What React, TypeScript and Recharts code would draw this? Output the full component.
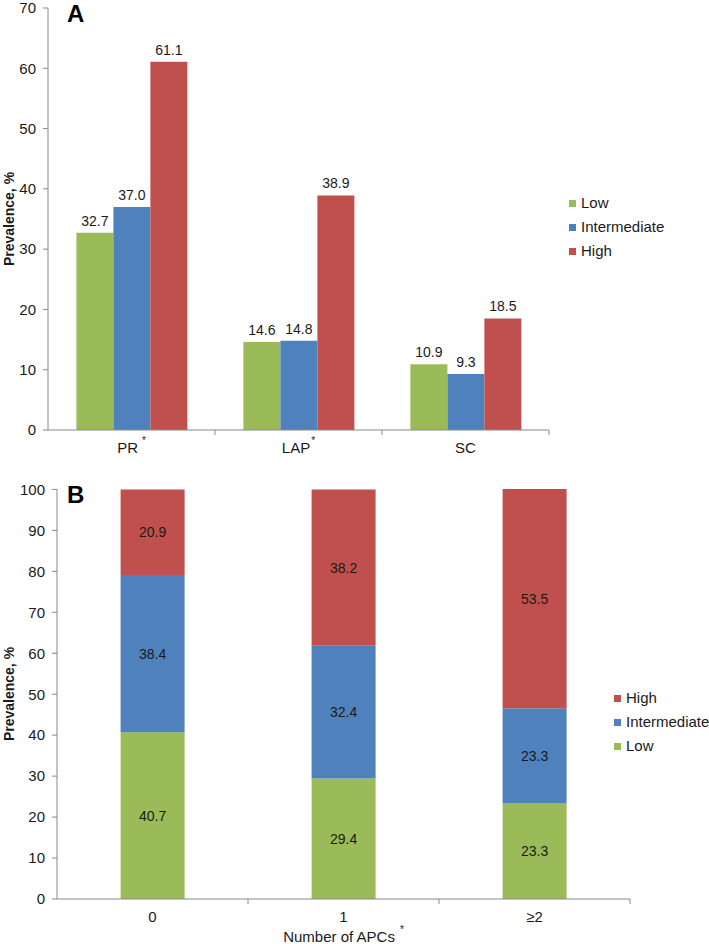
import { BarChart, Bar, XAxis, YAxis, LabelList } from "recharts";

// panel A: prevalence by group
const groupsA = ["PR", "LAP", "SC"];
const starsA = [true, true, false];
const lowA = [32.7, 14.6, 10.9];
const interA = [37.0, 14.8, 9.3];
const highA = [61.1, 38.9, 18.5];
const ticksA = [0, 10, 20, 30, 40, 50, 60, 70];

// panel B: prevalence by number of APCs
const groupsB = ["0", "1", "≥2"];
const lowB = [40.7, 29.4, 23.3];
const interB = [38.4, 32.4, 23.3];
const highB = [20.9, 38.2, 53.5];
const ticksB = [0, 10, 20, 30, 40, 50, 60, 70, 80, 90, 100];

const seriesNames = ["Low", "Intermediate", "High"];

const GREEN = "#9BBB59";
const BLUE = "#4F81BD";
const RED = "#C0504D";
const GREY = "#898989";
const INK = "#1a1a1a";
const FONT = "'Liberation Sans', Arial, sans-serif";

const dataA = groupsA.map((g, i) => ({
  name: g,
  star: starsA[i],
  low: lowA[i],
  inter: interA[i],
  high: highA[i],
}));

const dataB = groupsB.map((g, i) => ({
  name: g,
  star: false,
  low: lowB[i],
  inter: interB[i],
  high: highB[i],
}));

const fmt = (v: any) => Number(v).toFixed(1);

function CatTick(props: any) {
  const { x, y, payload, index, catW, stars } = props;
  const star = stars ? stars[index] : false;
  return (
    <g>
      <line x1={x + catW / 2} x2={x + catW / 2} y1={y} y2={y + 5} stroke={GREY} />
      <text x={x} y={y + 23} textAnchor="middle" fill={INK} fontSize={15} fontFamily={FONT}>
        {payload.value}
        {star ? (
          <tspan dx={payload.value === "PR" ? 4 : 1} dy={-9} fontSize={10}>
            *
          </tspan>
        ) : null}
      </text>
    </g>
  );
}

function YTitle({ cy }: { cy: number }) {
  return (
    <text
      x={14}
      y={cy}
      transform={`rotate(-90, 14, ${cy})`}
      textAnchor="middle"
      fontSize={14}
      fontWeight="bold"
      fill={INK}
      fontFamily={FONT}
    >
      Prevalence, %
    </text>
  );
}

function LegendBox({
  left,
  top,
  items,
}: {
  left: number;
  top: number;
  items: { name: string; color: string }[];
}) {
  return (
    <div style={{ position: "absolute", left, top, fontFamily: FONT, fontSize: 15, color: INK }}>
      {items.map((it) => (
        <div key={it.name} style={{ height: 24, lineHeight: "24px", display: "flex", alignItems: "center" }}>
          <span style={{ width: 7, height: 7, background: it.color, marginRight: 5, display: "inline-block" }} />
          <span>{it.name}</span>
        </div>
      ))}
    </div>
  );
}

const panelLetter = (top: number): React.CSSProperties => ({
  position: "absolute",
  left: 67,
  top,
  fontFamily: FONT,
  fontWeight: "bold",
  fontSize: 24,
  lineHeight: "24px",
  color: "#000",
});

export default function App() {
  const catWA = (549 - 48) / 3;
  const catWB = (630 - 57) / 3;
  const colors = [GREEN, BLUE, RED];

  return (
    <div style={{ position: "absolute", left: 0, top: 0, width: 709, height: 944, background: "#fff" }}>
      <div style={{ position: "absolute", left: 0, top: 0 }}>
        <BarChart
          width={709}
          height={470}
          data={dataA}
          margin={{ top: 8, right: 160, bottom: 0, left: 8 }}
          barCategoryGap="17%"
          barGap={0}
        >
          <XAxis
            dataKey="name"
            height={40}
            axisLine={{ stroke: GREY }}
            tickLine={false}
            tickSize={0}
            tickMargin={0}
            interval={0}
            tick={(p: any) => <CatTick {...p} catW={catWA} stars={starsA} />}
          />
          <YAxis
            width={40}
            domain={[0, 70]}
            ticks={ticksA}
            interval={0}
            axisLine={{ stroke: GREY }}
            tickLine={{ stroke: GREY }}
            tickSize={5}
            tickMargin={7}
            tick={{ fill: INK, fontSize: 15, fontFamily: FONT }}
            label={<YTitle cy={219} />}
          />
          <Bar dataKey="low" name="Low" fill={GREEN} isAnimationActive={false}>
            <LabelList dataKey="low" position="top" offset={7} formatter={fmt} fill={INK} fontSize={14} fontFamily={FONT} />
          </Bar>
          <Bar dataKey="inter" name="Intermediate" fill={BLUE} isAnimationActive={false}>
            <LabelList dataKey="inter" position="top" offset={7} formatter={fmt} fill={INK} fontSize={14} fontFamily={FONT} />
          </Bar>
          <Bar dataKey="high" name="High" fill={RED} isAnimationActive={false}>
            <LabelList dataKey="high" position="top" offset={7} formatter={fmt} fill={INK} fontSize={14} fontFamily={FONT} />
          </Bar>
        </BarChart>
      </div>
      <div style={panelLetter(2)}>A</div>
      <LegendBox left={569} top={191} items={seriesNames.map((n, i) => ({ name: n, color: colors[i] }))} />

      <div style={{ position: "absolute", left: 0, top: 460 }}>
        <BarChart
          width={709}
          height={484}
          data={dataB}
          margin={{ top: 29, right: 79, bottom: 0, left: 8 }}
          barCategoryGap="33.3%"
          barGap={0}
        >
          <XAxis
            dataKey="name"
            height={45}
            axisLine={{ stroke: GREY }}
            tickLine={false}
            tickSize={0}
            tickMargin={0}
            interval={0}
            tick={(p: any) => <CatTick {...p} catW={catWB} />}
          />
          <YAxis
            width={49}
            domain={[0, 100]}
            ticks={ticksB}
            interval={0}
            axisLine={{ stroke: GREY }}
            tickLine={{ stroke: GREY }}
            tickSize={5}
            tickMargin={7}
            tick={{ fill: INK, fontSize: 15, fontFamily: FONT }}
            label={<YTitle cy={234} />}
          />
          <Bar dataKey="low" name="Low" stackId="s" fill={GREEN} isAnimationActive={false}>
            <LabelList dataKey="low" position="center" formatter={fmt} fill={INK} fontSize={14} fontFamily={FONT} />
          </Bar>
          <Bar dataKey="inter" name="Intermediate" stackId="s" fill={BLUE} isAnimationActive={false}>
            <LabelList dataKey="inter" position="center" formatter={fmt} fill={INK} fontSize={14} fontFamily={FONT} />
          </Bar>
          <Bar dataKey="high" name="High" stackId="s" fill={RED} isAnimationActive={false}>
            <LabelList dataKey="high" position="center" formatter={fmt} fill={INK} fontSize={14} fontFamily={FONT} />
          </Bar>
        </BarChart>
      </div>
      <div style={panelLetter(483)}>B</div>
      <LegendBox
        left={614}
        top={686}
        items={[2, 1, 0].map((i) => ({ name: seriesNames[i], color: colors[i] }))}
      />
      <div
        style={{
          position: "absolute",
          left: 57,
          width: 573,
          top: 929,
          textAlign: "center",
          fontFamily: FONT,
          fontSize: 15,
          lineHeight: "16px",
          color: INK,
          whiteSpace: "nowrap",
        }}
      >
        Number of APCs
        <span style={{ fontSize: 10, position: "relative", top: -9, marginLeft: 5 }}>*</span>
      </div>
    </div>
  );
}
